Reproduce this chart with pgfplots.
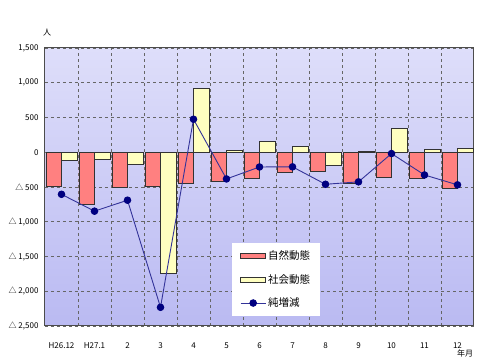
\documentclass[border=0pt]{standalone}
\usepackage{pgfplots}
\pgfplotsset{compat=1.18}
\usepackage{fontspec}
\setmainfont{Noto Sans CJK JP}
\definecolor{natc}{RGB}{255,128,128}
\definecolor{socc}{RGB}{255,255,192}
\definecolor{linec}{RGB}{51,51,153}
\definecolor{markc}{RGB}{0,0,128}
\definecolor{bgtop}{RGB}{222,222,250}
\definecolor{bgbot}{RGB}{186,186,242}
\pgfplotsset{
  natleg/.style={legend image code/.code={\draw[fill=natc, draw=black!80, line width=0.6pt] (0pt,-2.5pt) rectangle (25pt,2.5pt);}},
  socleg/.style={legend image code/.code={\draw[fill=socc, draw=black!80, line width=0.6pt] (0pt,-2.5pt) rectangle (25pt,2.5pt);}},
  netleg/.style={legend image code/.code={\draw[linec, line width=0.9pt] (0pt,0pt) -- (25pt,0pt); \fill[markc] (12.5pt,0pt) circle (3.3pt);}},
}
\begin{document}
\begin{tikzpicture}[x=1pt,y=1pt]
\path (0,0) rectangle (483,363);
\begin{axis}[
  at={(45pt,37pt)}, anchor=south west,
  scale only axis, width=429pt, height=278pt,
  xmin=-0.5, xmax=12.5, ymin=-2500, ymax=1500,
  xtick={0,...,12},
  xticklabels={H26.12,H27.1,2,3,4,5,6,7,8,9,10,11,12},
  minor xtick={0.5,1.5,...,11.5},
  ytick={-2500,-2000,-1500,-1000,-500,0,500,1000,1500},
  yticklabels={{△ 2,500},{△ 2,000},{△ 1,500},{△ 1,000},{△ 500},0,500,{1,000},{1,500}},
  /pgf/number format/assume math mode=true,
  tick style={draw=none},
  xmajorgrids=false, xminorgrids=true, ymajorgrids=true,
  minor grid style={dashed, gray!80!black, line width=0.6pt},
  major grid style={dashed, gray!80!black, line width=0.6pt},
  axis line style={draw=gray!60!black, line width=1pt},
  axis background/.style={shade, top color=bgtop, bottom color=bgbot},
  tick label style={font=\fontsize{8}{9}\selectfont},
  xticklabel style={yshift=-13pt},
  yticklabel style={xshift=-3pt},
  legend style={at={(0.436,0.299)}, anchor=north west, draw=none, fill=white,
    font=\fontsize{10.5}{11}\selectfont, inner xsep=8pt, inner ysep=6pt, row sep=9pt,
    cells={anchor=west}},
  legend cell align=left,
]
\addplot[ybar, bar width=0.47, bar shift=-0.235, fill=natc, draw=black!80, line width=0.6pt, natleg]
  coordinates {(0,-490) (1,-748) (2,-505) (3,-490) (4,-441) (5,-413) (6,-370) (7,-292) (8,-269) (9,-441) (10,-360) (11,-370) (12,-522)};
\addlegendentry{自然動態}
\addplot[ybar, bar width=0.47, bar shift=0.235, fill=socc, draw=black!80, line width=0.6pt, socleg]
  coordinates {(0,-115) (1,-100) (2,-175) (3,-1741) (4,916) (5,29) (6,158) (7,82) (8,-192) (9,15) (10,341) (11,43) (12,53)};
\addlegendentry{社会動態}
\addplot[linec, line width=0.9pt, mark=*, mark size=3.3pt, mark options={fill=markc, draw=markc}, netleg]
  coordinates {(0,-605) (1,-848) (2,-690) (3,-2231) (4,475) (5,-384) (6,-212) (7,-210) (8,-461) (9,-426) (10,-19) (11,-327) (12,-469)};
\addlegendentry{純増減}
\end{axis}
\node[font=\fontsize{8}{9}\selectfont] at (47,330) {人};
\node[font=\fontsize{8}{9}\selectfont] at (465,10) {年月};
\end{tikzpicture}
\end{document}
